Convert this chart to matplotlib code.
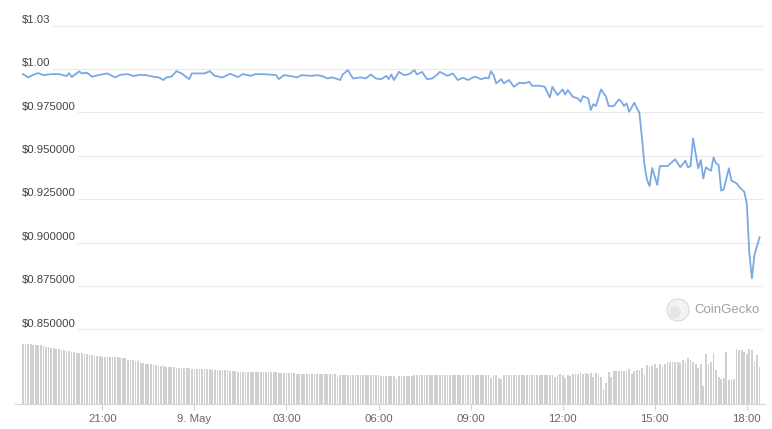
import matplotlib
matplotlib.use("Agg")
import matplotlib.pyplot as plt
import numpy as np
import pandas as pd
from matplotlib.patches import Ellipse
from matplotlib.transforms import blended_transform_factory

# price samples: minutes after 18:00 on 8 May 2022, price in USD
price_minutes = [
    25, 35, 45, 55, 65, 80, 95, 110, 115, 120,
    135, 140, 150, 160, 175, 190, 205, 215, 230, 240,
    255, 265, 280, 290, 300, 305, 315, 325, 335, 350,
    355, 370, 380, 390, 400, 415, 430, 445, 455, 470,
    480, 490, 505, 520, 525, 535, 545, 555, 560, 570,
    590, 600, 610, 620, 630, 640, 645, 650, 660, 670,
    685, 695, 705, 715, 725, 735, 740, 745, 750, 760,
    770, 780, 790, 795, 805, 815, 825, 835, 840, 855,
    865, 875, 885, 895, 905, 910, 920, 930, 935, 940,
    945, 950, 960, 965, 975, 985, 995, 1005, 1015, 1020,
    1035, 1045, 1055, 1060, 1070, 1080, 1085, 1090, 1100, 1110,
    1115, 1120, 1130, 1135, 1140, 1145, 1155, 1165, 1170, 1180,
    1190, 1195, 1200, 1205, 1210, 1220, 1230, 1235, 1240, 1245,
    1250, 1255, 1265, 1270, 1280, 1285, 1300, 1310, 1320, 1325,
    1330, 1335, 1345, 1350, 1355, 1360, 1370, 1375, 1380, 1385,
    1390, 1395, 1405, 1410, 1420, 1425, 1435, 1440, 1445, 1450,
    1455, 1465,
]
price_usd = [
    0.9971, 0.9952, 0.9967, 0.9977, 0.9965, 0.9971, 0.9971, 0.9960, 0.9977, 0.9954,
    0.9987, 0.9975, 0.9979, 0.9956, 0.9967, 0.9975, 0.9952, 0.9967, 0.9971, 0.9960,
    0.9967, 0.9965, 0.9956, 0.9952, 0.9937, 0.9952, 0.9956, 0.9988, 0.9975, 0.9942,
    0.9975, 0.9975, 0.9975, 0.9988, 0.9961, 0.9952, 0.9973, 0.9954, 0.9971, 0.9961,
    0.9971, 0.9971, 0.9969, 0.9965, 0.9942, 0.9965, 0.9961, 0.9956, 0.9952, 0.9965,
    0.9961, 0.9965, 0.9960, 0.9946, 0.9952, 0.9942, 0.9937, 0.9969, 0.9994, 0.9946,
    0.9952, 0.9946, 0.9969, 0.9946, 0.9941, 0.9961, 0.9942, 0.9969, 0.9937, 0.9984,
    0.9965, 0.9971, 0.9994, 0.9969, 0.9984, 0.9942, 0.9946, 0.9969, 0.9984, 0.9961,
    0.9975, 0.9937, 0.9950, 0.9937, 0.9952, 0.9956, 0.9942, 0.9950, 0.9946, 0.9988,
    0.9965, 0.9918, 0.9942, 0.9918, 0.9937, 0.9898, 0.9921, 0.9918, 0.9927, 0.9904,
    0.9904, 0.9898, 0.9837, 0.9898, 0.9850, 0.9883, 0.9854, 0.9879, 0.9840, 0.9831,
    0.9812, 0.9844, 0.9831, 0.9764, 0.9798, 0.9787, 0.9883, 0.9840, 0.9787, 0.9787,
    0.9825, 0.9812, 0.9787, 0.9802, 0.9754, 0.9806, 0.9748, 0.9603, 0.9447, 0.9361,
    0.9326, 0.9430, 0.9332, 0.9441, 0.9441, 0.9441, 0.9480, 0.9434, 0.9472, 0.9434,
    0.9441, 0.9601, 0.9428, 0.9476, 0.9370, 0.9434, 0.9414, 0.9491, 0.9457, 0.9447,
    0.9299, 0.9307, 0.9428, 0.9357, 0.9342, 0.9322, 0.9293, 0.9226, 0.8938, 0.8794,
    0.8929, 0.9031,
]

# 5-minute volume bars from 18:25 on 8 May (relative units, no axis shown)
volume_start = "2022-05-08 18:25"
volume = [
    60.5, 60.5, 60, 60, 59.5, 59.5, 59, 59, 58.5,
    57.5, 57, 56.5, 56, 55.5,
    55, 54.5, 54, 53.5, 53, 52.5, 52, 51.5,
    51, 51, 50.5, 50, 49.5, 49, 48.5, 48, 48,
    47.5, 47.5, 47.5, 47, 47, 47, 47,
    46.5, 46.5, 46, 44.5, 44, 44, 43.5, 43, 41.5, 41,
    40.5, 40, 40, 39.5, 39, 38.5, 38, 38, 37.5, 37.5, 37, 37, 36.5,
    36, 36, 36, 36, 36, 35.5, 35.5, 35.5, 35.5, 35.5, 35.5, 35, 35,
    34.5, 34.5, 34, 34, 34, 34, 34, 33.5, 33, 33, 32.5, 32.5,
    32.5, 32.5, 32, 32, 32, 32, 32, 32, 32, 32, 32, 32, 32, 32, 31.5, 31.5, 31.5,
    31, 31, 31, 31, 30.5, 30.5, 30.5, 30.5, 30.5, 30.5, 30.5, 30.5,
    30.5, 30.5, 30.5, 30.5, 30.5, 30.5, 30.5, 30.5, 27,
    29, 29, 29, 29, 29, 29, 29, 29, 29, 29, 29, 29, 29, 29, 29, 29,
    28.5, 28.5, 28.5, 28.5, 28.5, 28.5, 25,
    28.5, 28.5, 28.5, 28.5, 28.5, 28.5, 29, 29, 29, 29, 29, 29, 29, 29, 29,
    29, 29, 29, 29, 29, 29, 29, 29, 29, 29, 29, 29, 29, 29, 29, 29, 29, 29, 29, 29,
    29, 26.5, 29, 29.5, 26, 25,
    29, 29, 29, 29, 29, 29, 29, 29, 29, 29, 29, 29, 29, 29, 29, 29, 29, 29, 29, 29,
    27, 29, 30, 29, 26, 29, 28, 30, 30.5, 30.5,
    31, 30.5, 31, 30.5, 31, 27, 31.5, 30, 27.5, 15.5,
    21.5, 32.5, 27.5, 33, 33.5, 33.5, 33.5, 33.5, 33, 35.5,
    30.5, 33, 34, 34, 36.5, 29, 39, 37.5, 38, 40,
    36.5, 40, 37.5, 40, 42.5, 42.5, 42.5, 42.5, 42.5, 41,
    44.5, 42, 46.5, 44, 42.5, 40, 36.5, 40.5, 18, 50,
    40.5, 42, 51.5, 34, 27.5, 25.5, 26, 52.5, 24.5, 24.5,
    25, 55.5, 54.5, 54, 52.5, 50.5, 55.5, 54.5, 42.5, 49,
    37.5,
]

y_ticks = [1.025, 1.0, 0.975, 0.95, 0.925, 0.9, 0.875, 0.85]
y_labels = ["$1.03", "$1.00", "$0.975000", "$0.950000", "$0.925000",
            "$0.900000", "$0.875000", "$0.850000"]
x_tick_times = ["2022-05-08 21:00", "2022-05-09 00:00", "2022-05-09 03:00",
                "2022-05-09 06:00", "2022-05-09 09:00", "2022-05-09 12:00",
                "2022-05-09 15:00", "2022-05-09 18:00"]
x_tick_labels = ["21:00", "9. May", "03:00", "06:00", "09:00", "12:00", "15:00", "18:00"]

plt.rcParams['font.family'] = ['Liberation Sans', 'DejaVu Sans']

W, H = 772, 429
fig = plt.figure(figsize=(W / 100, H / 100), dpi=100)
fig.patch.set_facecolor('white')

base = pd.Timestamp("2022-05-08 18:00")
price_times = base + pd.to_timedelta(price_minutes, unit="min")
vol_times = pd.Timestamp(volume_start) + pd.to_timedelta(5 * np.arange(len(volume)), unit="min")

# pixel -> time mapping of the reference (21:00 at x=102.3, 30.69 px per hour)
t21 = pd.Timestamp("2022-05-08 21:00")
x_left = t21 + pd.Timedelta(hours=(15 - 102.3) / 30.69)
x_right = t21 + pd.Timedelta(hours=(765 - 102.3) / 30.69)

ax_p = fig.add_axes([15 / W, 1 - 329.4 / H, 750 / W, (329.4 - 25.7) / H])
ax_v = fig.add_axes([15 / W, 1 - 404 / H, 750 / W, 64 / H])

# price panel
for v in y_ticks:
    ax_p.axhline(v, xmin=7 / 750, xmax=747 / 750, color='#ebebeb', lw=0.8,
                 zorder=0, clip_on=False)
ax_p.plot(price_times, price_usd, color='#7aa9e2', lw=1.3, zorder=3,
          solid_joinstyle='round')
trans = blended_transform_factory(ax_p.transAxes, ax_p.transData)
for v, lab in zip(y_ticks, y_labels):
    ax_p.annotate(lab, xy=(0, v), xycoords=trans, xytext=(5, 2),
                  textcoords='offset points', ha='left', va='baseline',
                  fontsize=8.2, color='#444444', zorder=2, annotation_clip=False,
                  bbox=dict(boxstyle='square,pad=0.2', fc='white', ec='none'))
ax_p.set_xlim(x_left, x_right)
ax_p.set_ylim(0.85, 1.025)
ax_p.set_xticks([])
ax_p.set_yticks([])
for s in ax_p.spines.values():
    s.set_visible(False)
ax_p.patch.set_alpha(0)

# volume panel
ax_v.bar(vol_times, volume, width=5 / 1440 * 0.68, color='#d0d0d0', lw=0, align='center')
ax_v.set_xlim(x_left, x_right)
ax_v.set_ylim(0, 64)
ax_v.set_yticks([])
ax_v.set_xticks(pd.to_datetime(x_tick_times))
ax_v.set_xticklabels(x_tick_labels)
ax_v.tick_params(axis='x', length=4.5, color='#ccd6eb', labelcolor='#666666',
                 labelsize=8.2, pad=2.5)
for k in ['top', 'left', 'right']:
    ax_v.spines[k].set_visible(False)
ax_v.spines['bottom'].set_color('#d8d8d8')
ax_v.spines['bottom'].set_linewidth(0.8)
ax_v.patch.set_alpha(0)

# CoinGecko watermark
fig.add_artist(Ellipse((678 / W, 1 - 310 / H), 22 / W, 22 / H,
                       fc='#f3f3f3', ec='#d9d9d9', lw=0.8))
fig.add_artist(Ellipse((675 / W, 1 - 312 / H), 11 / W, 13 / H,
                       fc='#e6e6e6', ec='none'))
fig.text(694 / W, 1 - 310 / H, "CoinGecko", fontsize=9.5, color='#a0a0a0',
         ha='left', va='center')

fig.savefig("out.png", dpi=100)
